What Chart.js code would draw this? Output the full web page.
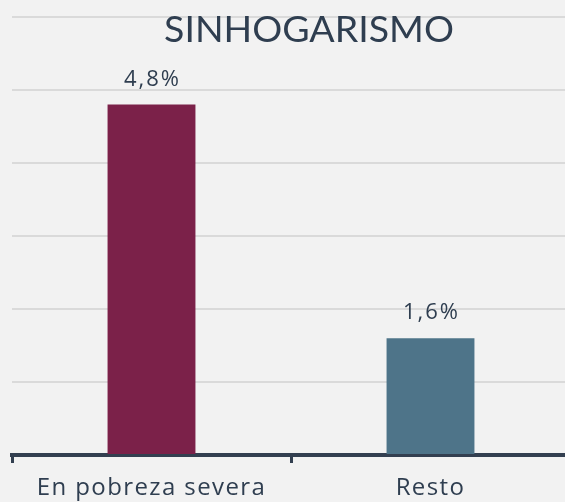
<!DOCTYPE html>
<html><head><meta charset="utf-8">
<script src="https://cdn.jsdelivr.net/npm/chart.js@4/dist/chart.umd.min.js"></script>
<style>
html,body{margin:0;padding:0;background:#f2f2f2;overflow:hidden;}
#wrap{width:570px;height:502px;position:relative;}
</style></head>
<body><div id="wrap"><canvas id="c"></canvas></div>
<script>
const categories = ["En pobreza severa", "Resto"];
const values = [4.8, 1.6];
const valueLabels = ["4,8%", "1,6%"];
const barColors = ["#7b2149", "#4e7489"];
const chartTitle = "SINHOGARISMO";

const textColor = "#2f3e50";
const FONT = "Lato, 'Open Sans', sans-serif";
const FONT2 = "'Open Sans', Lato, sans-serif";

const extras = {
  id: "extras",
  beforeDraw(chart) {
    chart.ctx.letterSpacing = "1.4px";
  },
  afterDatasetsDraw(chart) {
    const ctx = chart.ctx;
    ctx.save();
    ctx.fillStyle = textColor;
    ctx.textAlign = "center";
    ctx.textBaseline = "alphabetic";
    ctx.letterSpacing = "2px";
    ctx.font = "22px " + FONT2;
    const meta = chart.getDatasetMeta(0);
    meta.data.forEach((bar, i) => {
      ctx.fillText(valueLabels[i], bar.x + 1, bar.y - 19);
    });
    ctx.letterSpacing = "0px";
    ctx.font = "37.5px " + FONT;
    ctx.fillText(chartTitle, 309, 42);
    ctx.restore();
  }
};

new Chart(document.getElementById("c"), {
  type: "bar",
  data: {
    labels: categories,
    datasets: [{
      data: values,
      backgroundColor: barColors,
      borderWidth: 0,
      categoryPercentage: 1,
      barPercentage: 0.315
    }]
  },
  options: {
    responsive: true,
    maintainAspectRatio: false,
    animation: false,
    devicePixelRatio: 1,
    layout: { padding: { left: 12, top: 17, right: 0, bottom: 0 } },
    plugins: { legend: { display: false }, tooltip: { enabled: false }, title: { display: false } },
    scales: {
      x: {
        offset: true,
        border: { display: true, color: "#333f50", width: 4 },
        grid: { display: true, drawOnChartArea: false, drawTicks: true, tickLength: 8, tickWidth: 3, tickColor: "#333f50", offset: true },
        ticks: { color: textColor, font: { family: FONT2, size: 24 }, padding: 11, maxRotation: 0 },
        afterFit(scale) { scale.height = 47; }
      },
      y: {
        min: 0, max: 6,
        ticks: { display: false, stepSize: 1 },
        border: { display: false },
        grid: { color: "#dadada", lineWidth: 2, drawTicks: false },
        afterFit(scale) { scale.width = 0; }
      }
    }
  },
  plugins: [extras]
});
</script></body></html>
